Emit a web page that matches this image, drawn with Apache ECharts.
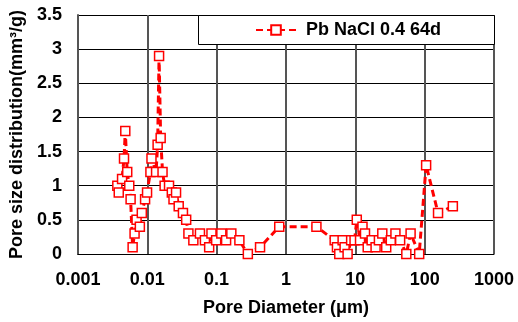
<!DOCTYPE html>
<html>
<head>
<meta charset="utf-8">
<script src="https://cdn.jsdelivr.net/npm/echarts@6/dist/echarts.min.js"></script>
<style>
  html, body { margin: 0; padding: 0; background: #fff; }
  #chart { width: 518px; height: 322px; }
</style>
</head>
<body>
<div id="chart"></div>
<script>
// Pore diameter (µm) and pore size distribution (mm³/g)
const poreDiameter = [0.0037, 0.00388, 0.00433, 0.00462, 0.00482, 0.00514, 0.0055, 0.00575, 0.00615, 0.00656,
  0.00701, 0.00782, 0.00834, 0.0093, 0.00993, 0.0111, 0.0115, 0.0134, 0.0141, 0.0148,
  0.0156, 0.0166, 0.0178, 0.0206, 0.0226, 0.0239, 0.026, 0.0284, 0.0327, 0.0364,
  0.0392, 0.0462, 0.0575, 0.0678, 0.0781, 0.0843, 0.0985, 0.117, 0.137, 0.163,
  0.213, 0.282, 0.423, 0.80, 2.75, 5.04, 5.44, 5.87, 6.56, 7.01,
  7.74, 8.71, 9.75, 10.5, 11.7, 12.7, 13.8, 15.1, 17.2, 19.6,
  21.9, 24.5, 27.9, 32.5, 37.9, 44.3, 54.4, 62.7, 83.4, 105,
  156, 255];
const psd = [1.0, 0.9, 1.1, 1.4, 1.8, 1.2, 1.0, 0.8, 0.1, 0.3,
  0.5, 0.4, 0.6, 0.8, 0.9, 1.2, 1.4, 1.2, 1.6, 2.9,
  1.7, 1.2, 1.0, 1.0, 0.9, 0.8, 0.9, 0.7, 0.6, 0.5,
  0.3, 0.2, 0.3, 0.2, 0.1, 0.3, 0.2, 0.3, 0.2, 0.3,
  0.2, 0.0, 0.1, 0.4, 0.4, 0.2, 0.1, 0.0, 0.2, 0.1,
  0.0, 0.2, 0.2, 0.5, 0.2, 0.4, 0.3, 0.1, 0.2, 0.1,
  0.2, 0.3, 0.1, 0.2, 0.3, 0.2, 0.0, 0.3, 0.0, 1.3,
  0.6, 0.7];
const seriesName = 'Pb NaCl 0.4 64d';
const xTickLabels = ['0.001', '0.01', '0.1', '1', '10', '100', '1000'];
const yTickLabels = ['0', '0.5', '1', '1.5', '2', '2.5', '3', '3.5'];

const FONT = "'Liberation Sans', Arial, sans-serif";
const RED = '#FF0000';

const chart = echarts.init(document.getElementById('chart'), null, { renderer: 'canvas' });
chart.setOption({
  animation: false,
  backgroundColor: '#fff',
  textStyle: { fontFamily: FONT },
  grid: { left: 73.5, right: 24, top: 15, bottom: 68, containLabel: false },
  xAxis: {
    type: 'log',
    logBase: 10,
    min: 0.001,
    max: 1000,
    name: 'Pore Diameter (μm)',
    nameLocation: 'middle',
    nameGap: 45,
    nameTextStyle: { fontFamily: FONT, fontWeight: 'bold', fontSize: 18, color: '#000' },
    axisLine: { show: true, onZero: false, lineStyle: { color: '#000', width: 1 } },
    axisTick: { show: false },
    axisLabel: {
      fontFamily: FONT, fontWeight: 'bold', fontSize: 18, color: '#000', margin: 17,
      formatter: v => xTickLabels[Math.round(Math.log10(v)) + 3]
    },
    splitLine: { show: true, lineStyle: { color: '#555', width: 2 } }
  },
  yAxis: {
    type: 'value',
    min: 0,
    max: 3.5,
    interval: 0.5,
    name: 'Pore size distribution(mm³/g)',
    nameLocation: 'middle',
    nameGap: 46,
    nameTextStyle: { fontFamily: FONT, fontWeight: 'bold', fontSize: 18, color: '#000' },
    axisLine: { show: true, lineStyle: { color: '#555', width: 2 } },
    axisTick: { show: false },
    axisLabel: {
      fontFamily: FONT, fontWeight: 'bold', fontSize: 18, color: '#000', margin: 16,
      formatter: v => yTickLabels[Math.round(v / 0.5)]
    },
    splitLine: { show: true, lineStyle: { color: '#000', width: 1 } }
  },
  legend: {
    show: true,
    left: 255,
    top: 21,
    padding: 0,
    itemWidth: 40,
    itemHeight: 12,
    z: 20,
    textStyle: { fontFamily: FONT, fontWeight: 'bold', fontSize: 18, color: '#000', padding: [0, 0, 0, 5] },
    data: [seriesName]
  },
  graphic: [{
    type: 'rect',
    z: 10,
    shape: { x: 198.5, y: 15.5, width: 296, height: 29 },
    style: { fill: '#fff', stroke: '#000', lineWidth: 1 }
  }],
  series: [{
    name: seriesName,
    type: 'line',
    data: poreDiameter.map((d, i) => [d, psd[i]]),
    symbol: 'rect',
    symbolSize: 9,
    z: 5,
    itemStyle: { color: '#fff', borderColor: RED, borderWidth: 1.5 },
    lineStyle: { color: RED, width: 3, type: [7, 4] }
  }]
});
</script>
</body>
</html>
